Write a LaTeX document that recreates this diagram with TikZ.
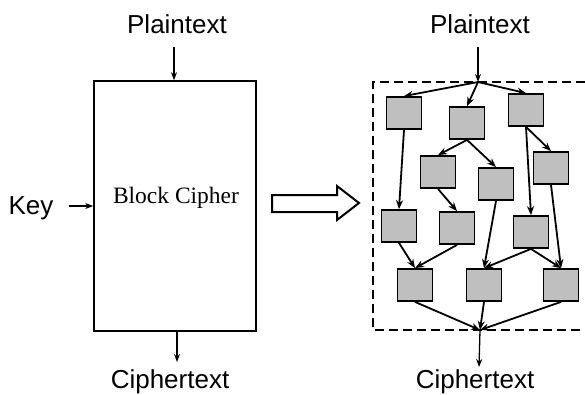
\documentclass[tikz,border=0pt]{standalone}
\usepackage{fontspec}
\setmainfont{Liberation Sans}
\newfontfamily\serifface{Liberation Serif}
\usetikzlibrary{arrows.meta}

\tikzset{
  lbl/.style = {font=\fontsize{26}{30}\selectfont},
  blk/.style = {draw, line width=1.8pt, fill=gray!50,
                minimum width=35pt, minimum height=32pt, inner sep=0pt},
  flow/.style = {line width=1.8pt, -{Stealth[length=9pt,width=7pt]}},
  io/.style = {line width=1.3pt, -{Stealth[length=8pt,width=6pt]}}
}

\begin{document}
\begin{tikzpicture}[x=1pt, y=-1pt]
  \useasboundingbox (0,0) rectangle (585,394);

  % left: the cipher as a black box
  \node[draw, line width=1.6pt, minimum width=162pt, minimum height=250pt,
        inner sep=0pt] (cipher) at (175,206) {};
  \node[font=\serifface\fontsize{23.5}{28}\selectfont] (bc) at (176,198) {Block Cipher};
  \node[lbl] (ptl) at (177,24) {Plaintext};
  \node[lbl] (key) at (31,208) {Key};
  \node[lbl] (ctl) at (170,382) {Ciphertext};
  \coordinate (ptlend) at (174,47);
  \coordinate (keyend) at (69,206);
  \coordinate (ctlend) at (177,362);
  \draw[io] (ptlend) -- (ptlend |- cipher.north);
  \draw[io] (keyend) -- (keyend -| cipher.west);
  \draw[io] (ctlend |- cipher.south) -- (ctlend);

  % hollow arrow
  \draw[line width=2pt, line join=miter]
    (272,195) -- (337,195) -- (337,186) -- (359,203) -- (337,220)
    -- (337,212) -- (272,212) -- cycle;

  % right: the cipher opened up
  \draw[line width=2.8pt, dash pattern=on 9pt off 5pt]
    (585,82) -- (373,82) -- (373,330) -- (585,330);
  \node[lbl] (ptr) at (480,24) {Plaintext};
  \node[lbl] (ctr) at (475,382) {Ciphertext};
  \coordinate (top) at (478,82);
  \coordinate (bot) at (480,330);
  \coordinate (ptrend) at (478,47);
  \coordinate (ctrend) at (479,367);

  \foreach \name/\x/\y in {b1/404/113, b2/467/123, b3/526/110,
                           b4/438/172, b5/496/184, b6/551/168,
                           b7/399/226, b8/457/228, b9/531/232,
                           b10/415/285, b11/484/285, b12/561/285}
    \node[blk] (\name) at (\x,\y) {};

  \draw[io] (ptrend) -- (top);
  \draw[flow] (top) -- (b1.north);
  \draw[flow] (top) -- (b2.north);
  \draw[flow] (top) -- (b3.north);
  \draw[flow] (b1.south) -- (b7.north);
  \draw[flow] (b2.south) -- (b4.north);
  \draw[flow] (b2.south) -- (b5.north);
  \draw[flow] (b3.south) -- (b6.north);
  \draw[flow] (b3.south) -- (b9.north);
  \draw[flow] (b4.south) -- (b8.north);
  \draw[flow] (b5.south) -- (b11.north);
  \draw[flow] (b6.south) -- (b12.north);
  \draw[flow] (b7.south) -- (b10.north);
  \draw[flow] (b8.south) -- (b10.north);
  \draw[flow] (b9.south) -- (b11.north);
  \draw[flow] (b9.south) -- (b12.north);
  \draw[flow] (b10.south) -- (bot);
  \draw[flow] (b11.south) -- (bot);
  \draw[flow] (b12.south) -- (bot);
  \draw[io] (bot) -- (ctrend);
\end{tikzpicture}
\end{document}
